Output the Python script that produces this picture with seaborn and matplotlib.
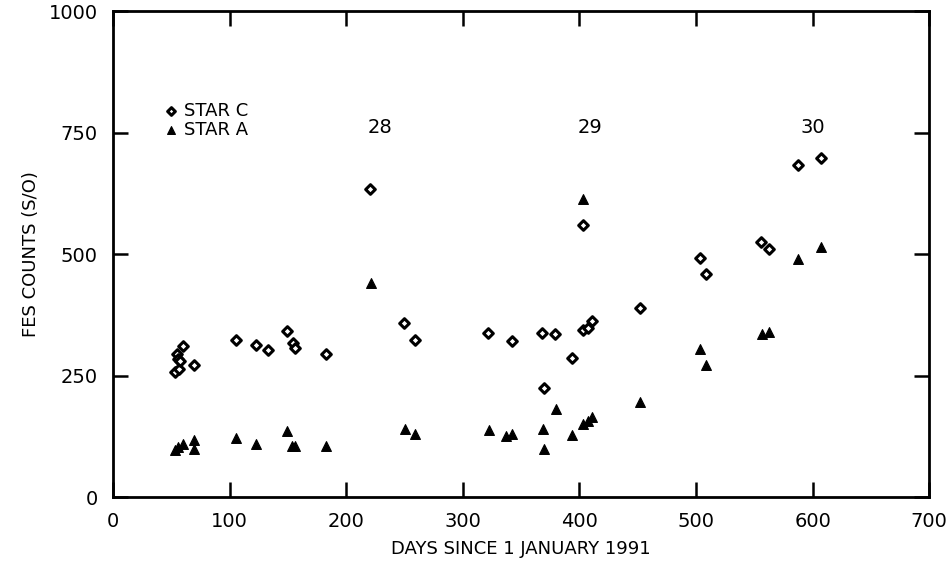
import pandas as pd
import matplotlib.pyplot as plt
import seaborn as sns

# === DANE ===
day_c = [53, 57, 55, 56, 57.5, 60, 69.5, 105.5, 122.7, 133, 149.5, 154, 156.5, 182.5,
         220.5, 249.5, 259, 322, 342.3, 368.3, 369.5, 379.4, 393.8, 403, 403.5, 407, 410.7,
         452, 503.6, 508.7, 556, 562.8, 587.3, 607.4]
fes_c = [258, 263, 294, 285, 280, 311, 272, 324, 313, 303, 341, 316, 306, 294,
         634, 358, 323, 338, 322, 337, 225, 336, 287, 559, 344, 348, 362,
         389, 492, 459, 524, 511, 684, 698]

day_a = [53, 56, 60.3, 69.8, 69.8, 105.8, 122.7, 149.5, 153.3, 156, 182.7,
         221, 250, 259.3, 322.5, 337, 342.6, 369, 369.5, 379.8, 394, 403, 403.5, 407, 410.7,
         452, 503.6, 508.7, 556.2, 562.8, 587.6, 607.6]
fes_a = [96, 103, 110, 117, 98, 121, 110, 136, 105, 105, 104,
         441, 139, 129, 137, 126, 129, 141, 99, 181, 128, 613, 150, 157, 164,
         195, 304, 271, 335, 339, 490, 514]

orbit_days = [229, 409, 600]
orbit_labels = ['28', '29', '30']

star_c = pd.DataFrame({'day': day_c, 'fes': fes_c})
star_a = pd.DataFrame({'day': day_a, 'fes': fes_a})

# === WYKRES ===
sns.set_style('ticks', rc={
    'axes.edgecolor': 'black', 'axes.labelcolor': 'black', 'text.color': 'black',
    'xtick.color': 'black', 'ytick.color': 'black',
})
plt.rcParams['font.family'] = ['DejaVu Sans']

fig = plt.figure(figsize=(9.53, 5.69), dpi=100)
ax = fig.add_axes([0.1186, 0.1265, 0.8564, 0.854])

sns.scatterplot(data=star_c, x='day', y='fes', marker='D', s=24,
                facecolor='white', edgecolor='black', linewidth=2.2,
                label='STAR C', ax=ax)
sns.scatterplot(data=star_a, x='day', y='fes', marker='^', s=50,
                color='black', edgecolor='black', linewidth=0.8,
                label='STAR A', ax=ax)

ax.set_xlim(0, 700)
ax.set_ylim(0, 1000)
ax.set_xticks(range(0, 701, 100))
ax.set_yticks([0, 250, 500, 750, 1000])
ax.tick_params(direction='in', length=11, width=1.8, top=True, right=True,
               labelsize=14, pad=11)
for sp in ax.spines.values():
    sp.set_linewidth(2)

ax.set_xlabel('DAYS SINCE 1 JANUARY 1991', fontsize=13, family='Liberation Sans Narrow',
              labelpad=6)
ax.set_ylabel('FES COUNTS (S/O)', fontsize=13, family='Liberation Sans Narrow',
              labelpad=6)

for d, lab in zip(orbit_days, orbit_labels):
    ax.text(d, 760, lab, fontsize=14, ha='center', va='center')

ax.legend(loc='center left', bbox_to_anchor=(0.049, 0.775), frameon=False,
          fontsize=13, handletextpad=0.1, labelspacing=0.05,
          borderaxespad=0, handlelength=1.2, markerscale=0.8)

plt.savefig('out.png', dpi=100)
